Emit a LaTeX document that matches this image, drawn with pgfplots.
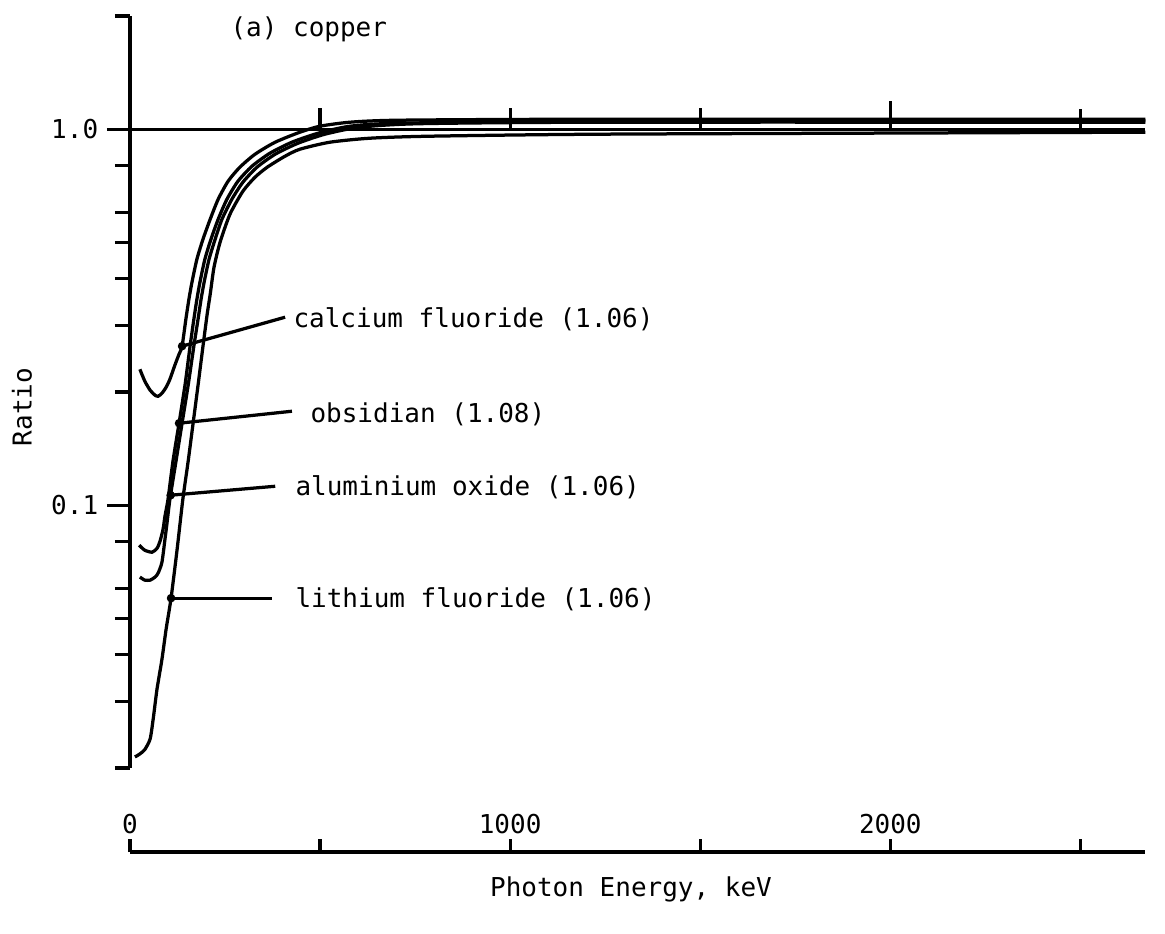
\documentclass[border=0pt]{standalone}
\usepackage{pgfplots}
\pgfplotsset{compat=1.18}
\usepackage{fontspec}
\setmainfont{DejaVu Sans Mono}

\begin{document}
\begin{tikzpicture}[font=\fontsize{10.4}{12.5}\selectfont]
\useasboundingbox (0,0) rectangle (466pt,-373.2pt);
\begin{axis}[
  at={(52pt,-307.2pt)}, anchor=south west,
  scale only axis, width=406pt, height=300.8pt,
  xmin=0, xmax=2670, ymin=0.02, ymax=2, ymode=log,
  axis x line=none,
  axis y line*=left,
  axis line style={line width=1.3pt},
  ytick={0.1,1}, yticklabels={0.1,1.0},
  minor ytick={0.02,0.03,0.04,0.05,0.06,0.08,0.2,0.3,0.4,0.5,0.6,0.8,2},
  tick align=outside,
  major tick length=9.2pt, minor tick length=6pt,
  every tick/.style={black, line width=1.3pt},
  ylabel={Ratio},
  ylabel style={at={(axis description cs:-0.1064,0.48)}, anchor=center},
  clip=false,
  /pgf/number format/assume math mode=true,
]
% reference line at 1.0
\addplot[line width=1.3pt] coordinates {(0,1) (2670,1)};
% calcium fluoride
\addplot[line width=1.3pt, smooth, tension=0.4] coordinates {
(26,0.2299) (39,0.2137) (53,0.2022) (66,0.1961) (74,0.1949) (84,0.1985) (95,0.2060) (105,0.2163) (118,0.2357) (129,0.2521) (137,0.2648) (147,0.3124) (155,0.3531) (163,0.3918) (176,0.4511) (192,0.5098) (211,0.5763) (232,0.6513) (258,0.7273) (289,0.7924) (329,0.8581) (382,0.9235) (447,0.9818) (500,1.0185) (579,1.0438) (711,1.0567) (1237,1.0632) (2671,1.0632)};
% obsidian
\addplot[line width=1.3pt, smooth, tension=0.4] coordinates {
(24,0.0783) (39,0.0759) (58,0.0750) (71,0.0768) (79,0.0802) (87,0.0864) (92,0.0935) (100,0.1037) (113,0.1309) (129,0.1652) (145,0.2098) (158,0.2648) (168,0.3124) (176,0.3531) (184,0.3918) (197,0.4511) (213,0.5098) (232,0.5763) (255,0.6513) (284,0.7273) (321,0.7975) (368,0.8632) (426,0.9235) (495,0.9758) (579,1.0185) (711,1.0374) (1237,1.0502) (2671,1.0535)};
% aluminium oxide
\addplot[line width=1.3pt, smooth, tension=0.4] coordinates {
(26,0.0644) (39,0.0632) (53,0.0632) (66,0.0644) (74,0.0660) (84,0.0705) (92,0.0812) (97,0.0890) (105,0.1037) (121,0.1309) (137,0.1652) (153,0.2085) (168,0.2648) (179,0.3124) (187,0.3531) (195,0.3918) (208,0.4511) (224,0.5098) (242,0.5763) (268,0.6513) (297,0.7228) (334,0.7924) (382,0.8581) (442,0.9178) (513,0.9699) (605,1.0123) (763,1.0343) (1237,1.0438) (2671,1.0438)};
% lithium fluoride
\addplot[line width=1.3pt, smooth, tension=0.4] coordinates {
(13,0.0214) (26,0.0218) (39,0.0224) (53,0.0239) (61,0.0270) (71,0.0324) (84,0.0389) (95,0.0468) (108,0.0566) (124,0.0764) (139,0.1037) (153,0.1309) (166,0.1652) (179,0.2085) (192,0.2648) (203,0.3221) (211,0.3640) (221,0.4295) (237,0.5006) (263,0.5942) (297,0.6840) (329,0.7455) (361,0.7924) (408,0.8478) (447,0.8847) (526,0.9235) (632,0.9464) (789,0.9580) (1237,0.9699) (2289,0.9788) (2671,0.9818)};
% leader lines
\addplot[line width=1.3pt] coordinates {(137,0.2648) (408,0.3162)};
\addplot[line width=1.3pt] coordinates {(129,0.1652) (426,0.1778)};
\addplot[line width=1.3pt] coordinates {(107,0.1063) (382,0.1123)};
\addplot[line width=1.3pt] coordinates {(108,0.0566) (374,0.0566)};
\addplot[only marks, mark=*, mark size=1.5pt] coordinates {(137,0.2648) (129,0.1652) (107,0.1063) (108,0.0566)};
% small ticks on the 1.0 line
\draw[line width=1.3pt] (axis cs:500,1) -- (axis cs:500,1.137);
\draw[line width=1.3pt] (axis cs:1000,0.99) -- (axis cs:1000,1.137);
\draw[line width=1.3pt] (axis cs:1500,0.99) -- (axis cs:1500,1.137);
\draw[line width=1.3pt] (axis cs:2000,0.99) -- (axis cs:2000,1.187);
\draw[line width=1.3pt] (axis cs:2500,0.99) -- (axis cs:2500,1.13);
\end{axis}

\begin{axis}[
  at={(52pt,-340.8pt)}, anchor=south west,
  scale only axis, width=406pt, height=20pt,
  xmin=0, xmax=2670, ymin=0, ymax=1,
  axis y line=none, axis x line*=bottom,
  axis line style={line width=1.3pt},
  xtick={0,500,...,2500}, xticklabels={0,,1000,,2000,},
  tick align=inside, major tick length=5.2pt,
  every tick/.style={black, line width=1.3pt},
  xticklabel style={anchor=base, yshift=7.4pt},
  xlabel={Photon Energy, keV},
  xlabel style={at={(axis description cs:0.4936,0)}, anchor=base, yshift=-17.6pt},
  /pgf/number format/assume math mode=true,
]
\end{axis}

\node[anchor=base west, inner sep=0] at (92pt,-14.4pt) {(a) copper};
\node[anchor=base west, inner sep=0] at (117.2pt,-130.8pt) {calcium fluoride (1.06)};
\node[anchor=base west, inner sep=0] at (124pt,-168.8pt) {obsidian (1.08)};
\node[anchor=base west, inner sep=0] at (118pt,-198pt) {aluminium oxide (1.06)};
\node[anchor=base west, inner sep=0] at (118pt,-242.8pt) {lithium fluoride (1.06)};
\end{tikzpicture}
\end{document}
